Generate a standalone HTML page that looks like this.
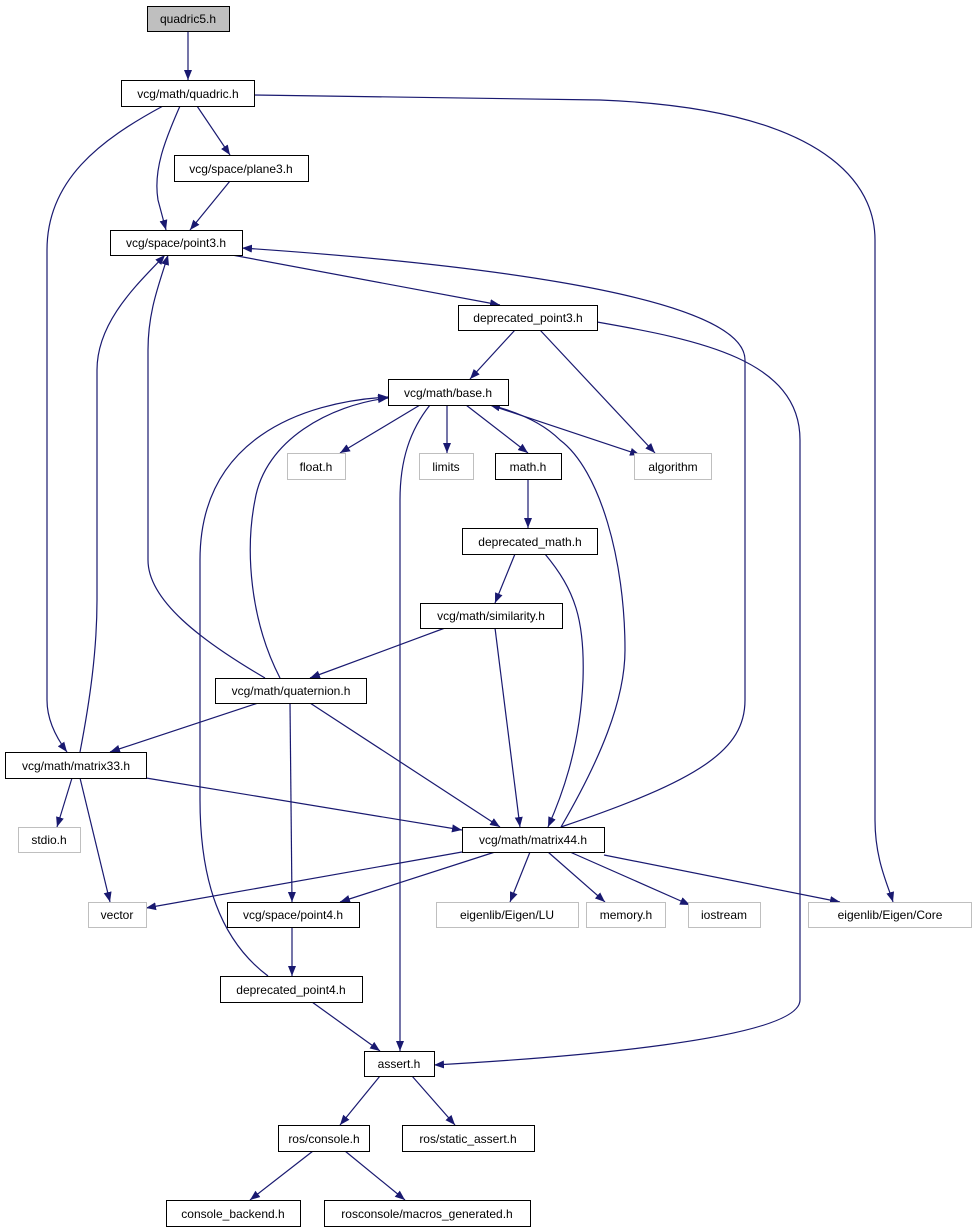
<!DOCTYPE html>
<html><head><meta charset="utf-8"><style>
html,body{margin:0;padding:0;background:#fff;}
svg{display:block;}
text{font-family:"Liberation Sans",sans-serif;font-size:12px;fill:#000;}
</style></head><body>
<svg width="976" height="1232" viewBox="0 0 976 1232" xmlns="http://www.w3.org/2000/svg">
<defs>
<marker id="a" viewBox="0 0 10 10" refX="10" refY="5" markerWidth="10" markerHeight="10" markerUnits="userSpaceOnUse" orient="auto">
<path d="M0,1 L10,5 L0,9 z" fill="#191970"/>
</marker>
</defs>
<g fill="none" stroke="#191970" stroke-width="1.2" marker-end="url(#a)">
<path d="M188,31 L188,80"/>
<path d="M254,95 L600,100 C850,110 875,200 875,240 L875,820 C875,860 888,885 893,902"/>
<path d="M163,106 C100,140 47,180 47,250 L47,700 C47,722 58,740 67,752"/>
<path d="M180,106 C165,140 153,170 158,200 L166,230"/>
<path d="M197,106 L230,155"/>
<path d="M230,181 L190,230"/>
<path d="M232,255 L500,305"/>
<path d="M561,827 C700,780 745,750 745,700 L745,360 C745,290 420,260 242,248"/>
<path d="M80,752 C90,700 97,650 97,600 L97,370 C97,320 140,282 165,255"/>
<path d="M265,678 C200,640 148,600 148,560 L148,350 C148,310 160,282 168,255"/>
<path d="M515,330 L470,379"/>
<path d="M540,330 L655,453"/>
<path d="M597,322 C700,340 800,360 800,440 L800,1000 C800,1040 560,1058 434,1065"/>
<path d="M420,405 L340,453"/>
<path d="M447,405 L447,453"/>
<path d="M466,405 L528,453"/>
<path d="M490,405 L640,455"/>
<path d="M561,827 C600,760 625,700 625,650 C625,560 600,470 560,440 C540,420 510,410 490,405"/>
<path d="M430,405 C410,430 400,460 400,500 L400,1051"/>
<path d="M528,479 L528,528"/>
<path d="M515,554 L495,603"/>
<path d="M545,554 C575,590 585,620 583,680 C580,750 560,800 548,827"/>
<path d="M445,628 L310,678"/>
<path d="M495,628 L520,827"/>
<path d="M280,678 C250,620 245,550 255,500 C265,440 330,405 388,398"/>
<path d="M258,703 L110,752"/>
<path d="M290,703 L292,902"/>
<path d="M310,703 L500,827"/>
<path d="M268,976 C220,940 200,880 200,800 L200,560 C200,440 300,402 388,397"/>
<path d="M72,778 L57,827"/>
<path d="M80,778 L110,902"/>
<path d="M146,778 L462,830"/>
<path d="M462,852 L146,908"/>
<path d="M495,852 L340,902"/>
<path d="M530,852 L510,902"/>
<path d="M548,852 L605,902"/>
<path d="M570,852 L690,905"/>
<path d="M604,855 L840,902"/>
<path d="M292,927 L292,976"/>
<path d="M312,1002 L380,1051"/>
<path d="M380,1076 L340,1125"/>
<path d="M412,1076 L455,1125"/>
<path d="M313,1151 L250,1200"/>
<path d="M345,1151 L405,1200"/>
</g>
<g stroke-width="1">
<rect x="147.5" y="6.5" width="82" height="25" fill="#bfbfbf" stroke="#000"/>
<rect x="121.5" y="80.5" width="133" height="26" fill="#fff" stroke="#000"/>
<rect x="174.5" y="155.5" width="134" height="26" fill="#fff" stroke="#000"/>
<rect x="110.5" y="230.5" width="132" height="25" fill="#fff" stroke="#000"/>
<rect x="458.5" y="305.5" width="139" height="25" fill="#fff" stroke="#000"/>
<rect x="388.5" y="379.5" width="120" height="26" fill="#fff" stroke="#000"/>
<rect x="287.5" y="453.5" width="58" height="26" fill="#fff" stroke="#bfbfbf"/>
<rect x="419.5" y="453.5" width="54" height="26" fill="#fff" stroke="#bfbfbf"/>
<rect x="495.5" y="453.5" width="66" height="26" fill="#fff" stroke="#000"/>
<rect x="634.5" y="453.5" width="77" height="26" fill="#fff" stroke="#bfbfbf"/>
<rect x="462.5" y="528.5" width="135" height="26" fill="#fff" stroke="#000"/>
<rect x="420.5" y="603.5" width="142" height="25" fill="#fff" stroke="#000"/>
<rect x="215.5" y="678.5" width="151" height="25" fill="#fff" stroke="#000"/>
<rect x="5.5" y="752.5" width="141" height="26" fill="#fff" stroke="#000"/>
<rect x="18.5" y="827.5" width="62" height="25" fill="#fff" stroke="#bfbfbf"/>
<rect x="462.5" y="827.5" width="142" height="25" fill="#fff" stroke="#000"/>
<rect x="88.5" y="902.5" width="58" height="25" fill="#fff" stroke="#bfbfbf"/>
<rect x="227.5" y="902.5" width="132" height="25" fill="#fff" stroke="#000"/>
<rect x="436.5" y="902.5" width="142" height="25" fill="#fff" stroke="#bfbfbf"/>
<rect x="586.5" y="902.5" width="79" height="25" fill="#fff" stroke="#bfbfbf"/>
<rect x="688.5" y="902.5" width="72" height="25" fill="#fff" stroke="#bfbfbf"/>
<rect x="808.5" y="902.5" width="163" height="25" fill="#fff" stroke="#bfbfbf"/>
<rect x="220.5" y="976.5" width="142" height="26" fill="#fff" stroke="#000"/>
<rect x="364.5" y="1051.5" width="70" height="25" fill="#fff" stroke="#000"/>
<rect x="278.5" y="1125.5" width="91" height="26" fill="#fff" stroke="#000"/>
<rect x="402.5" y="1125.5" width="132" height="26" fill="#fff" stroke="#000"/>
<rect x="166.5" y="1200.5" width="134" height="26" fill="#fff" stroke="#000"/>
<rect x="324.5" y="1200.5" width="206" height="26" fill="#fff" stroke="#000"/>
</g>
<g text-anchor="middle">
<text x="188" y="23">quadric5.h</text>
<text x="188" y="98">vcg/math/quadric.h</text>
<text x="241" y="173">vcg/space/plane3.h</text>
<text x="176" y="247">vcg/space/point3.h</text>
<text x="528" y="322">deprecated_point3.h</text>
<text x="448" y="397">vcg/math/base.h</text>
<text x="316" y="471">float.h</text>
<text x="446" y="471">limits</text>
<text x="528" y="471">math.h</text>
<text x="673" y="471">algorithm</text>
<text x="530" y="546">deprecated_math.h</text>
<text x="491" y="620">vcg/math/similarity.h</text>
<text x="291" y="695">vcg/math/quaternion.h</text>
<text x="76" y="770">vcg/math/matrix33.h</text>
<text x="49" y="844">stdio.h</text>
<text x="533" y="844">vcg/math/matrix44.h</text>
<text x="117" y="919">vector</text>
<text x="293" y="919">vcg/space/point4.h</text>
<text x="507" y="919">eigenlib/Eigen/LU</text>
<text x="626" y="919">memory.h</text>
<text x="724" y="919">iostream</text>
<text x="890" y="919">eigenlib/Eigen/Core</text>
<text x="291" y="994">deprecated_point4.h</text>
<text x="399" y="1068">assert.h</text>
<text x="324" y="1143">ros/console.h</text>
<text x="468" y="1143">ros/static_assert.h</text>
<text x="233" y="1218">console_backend.h</text>
<text x="427" y="1218">rosconsole/macros_generated.h</text>
</g>
</svg>
</body></html>
